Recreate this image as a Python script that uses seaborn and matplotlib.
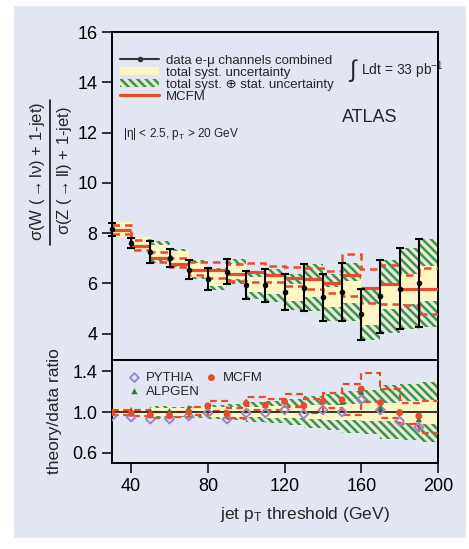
"""W/Z + 1-jet ratio versus jet pT threshold, with theory/data panel."""

import numpy as np
import matplotlib
matplotlib.use("Agg")
import matplotlib.pyplot as plt
from matplotlib.patches import Rectangle, Patch
from matplotlib.lines import Line2D
import seaborn as sns

# jet pT thresholds (GeV), each bin is 10 GeV wide
thresholds = np.array([30, 40, 50, 60, 70, 80, 90, 100, 110, 120, 130, 140, 150, 160, 170, 180, 190])
bin_width = 10

# measured ratio and its uncertainties
data = np.array([8.15, 7.60, 7.24, 7.00, 6.54, 6.17, 6.47, 5.95, 5.92, 5.64, 5.83, 5.44, 5.65, 4.76, 5.49, 5.79, 6.00])
tot_err = np.array([0.25, 0.20, 0.45, 0.35, 0.38, 0.42, 0.51, 0.56, 0.66, 0.72, 0.92, 0.95, 1.16, 1.03, 1.45, 1.60, 1.75])
syst_err = np.array([0.30, 0.25, 0.28, 0.28, 0.28, 0.28, 0.30, 0.30, 0.33, 0.35, 0.38, 0.40, 0.45, 0.42, 0.50, 0.60, 0.70])

# MCFM prediction with its uncertainty envelope
mcfm = np.array([8.11, 7.49, 7.02, 6.76, 6.55, 6.55, 6.36, 6.45, 6.32, 6.22, 6.19, 6.01, 6.32, 5.83, 5.99, 5.76, 5.76])
mcfm_up = np.array([8.34, 7.74, 7.25, 7.02, 6.85, 6.85, 6.75, 6.80, 6.69, 6.65, 6.59, 6.48, 7.18, 6.56, 6.74, 6.32, 6.62])
mcfm_lo = np.array([7.95, 7.31, 6.85, 6.63, 6.32, 6.22, 6.09, 6.05, 6.05, 5.89, 5.79, 5.63, 5.48, 5.21, 5.18, 5.12, 4.79])

# other generators, theory/data
pythia_ratio = np.array([0.96, 0.95, 0.93, 0.93, 0.96, 0.99, 0.93, 0.99, 0.99, 1.02, 0.98, 1.02, 1.00, 1.12, 1.02, 0.91, 0.85])
alpgen_ratio = np.array([1.00, 1.02, 1.01, 1.01, 1.04, 1.06, 0.99, 1.10, 1.07, 1.11, 1.07, 1.11, 1.10, 1.20, 1.04, 1.00, 0.93])

BG = '#e2e6f2'
YELLOW = '#fcf6c4'
GREEN = '#3f8f55'
HATCH_BG = '#e4ecd4'
RED = '#e9492d'
PURPLE = '#9d86c6'
HATCH = '\\\\\\\\'

sns.set_theme(style='ticks')
plt.rcParams['font.family'] = ['Liberation Sans', 'DejaVu Sans']
plt.rcParams['mathtext.fontset'] = 'custom'
plt.rcParams['mathtext.rm'] = 'Liberation Sans'
plt.rcParams['mathtext.it'] = 'Liberation Sans'
plt.rcParams['mathtext.default'] = 'regular'
plt.rcParams['hatch.linewidth'] = 1.8
plt.rcParams['axes.linewidth'] = 1.4

fig = plt.figure(figsize=(4.69, 5.49), dpi=100)
fig.patch.set_facecolor('white')
fig.patches.append(Rectangle((0.0299, 0.02), 0.9638, 0.969, transform=fig.transFigure,
                             facecolor=BG, edgecolor='none', zorder=-10))

ax1 = fig.add_axes([0.2388, 0.3443, 0.695, 0.5974])
ax2 = fig.add_axes([0.2388, 0.1566, 0.695, 0.1877], sharex=ax1)
edges = np.append(thresholds, thresholds[-1] + bin_width)

for ax in (ax1, ax2):
    ax.set_facecolor(BG)
    for s in ax.spines.values():
        s.set_color('black')
        s.set_visible(True)
    ax.tick_params(direction='out', length=7, width=1.1, labelsize=13, colors='black')

# Upper panel: bands, MCFM and data
ax1.bar(thresholds, 2 * tot_err, bottom=data - tot_err, width=bin_width, align='edge',
        facecolor=HATCH_BG, edgecolor=GREEN, hatch=HATCH, linewidth=0, zorder=1)
ax1.bar(thresholds, 2 * syst_err, bottom=data - syst_err, width=bin_width, align='edge',
        color=YELLOW, linewidth=0, zorder=2)
ax1.stairs(mcfm_up, edges, baseline=None, color=RED, linestyle=(0, (3, 2)), linewidth=1.8, zorder=3)
ax1.stairs(mcfm_lo, edges, baseline=None, color=RED, linestyle=(0, (3, 2)), linewidth=1.8, zorder=3)
ax1.hlines(mcfm, thresholds, thresholds + bin_width, color=RED, linewidth=2.3, zorder=4)
ax1.errorbar(thresholds, data, yerr=tot_err, fmt='o', ms=3, color='black', ecolor='black',
             elinewidth=1.5, capsize=3, capthick=1.5, zorder=5, clip_on=False)

ax1.set_ylim(2.95, 16)
ax1.set_yticks([4, 6, 8, 10, 12, 14, 16])
ax1.tick_params(axis='x', labelbottom=False, length=0)

handles = [
    Line2D([], [], color='#333333', marker='o', ms=3, lw=1.5),
    Patch(facecolor=YELLOW, edgecolor='none'),
    Patch(facecolor=HATCH_BG, edgecolor=GREEN, hatch=HATCH, linewidth=0),
    Line2D([], [], color=RED, lw=2.3),
]
labels = ['data e-\u03bc channels combined', 'total syst. uncertainty',
          'total syst. \u2295 stat. uncertainty', 'MCFM']
ax1.legend(handles, labels, loc='upper left', bbox_to_anchor=(0.0, 0.955), frameon=False,
           fontsize=9.5, handlelength=3.0, handleheight=0.6, labelspacing=0.0,
           handletextpad=0.5, borderaxespad=0.2)

ax1.text(0.725, 0.883, r'$\int$', transform=ax1.transAxes, fontsize=17, va='center', ha='left')
ax1.text(0.765, 0.885, r'Ldt = 33 pb$^{-1}$', transform=ax1.transAxes,
         fontsize=10, va='center', ha='left')
ax1.text(0.79, 0.738, 'ATLAS', transform=ax1.transAxes, fontsize=13, va='center', ha='center')
ax1.text(0.035, 0.69, r'|$\eta$| < 2.5, p$_\mathrm{T}$ > 20 GeV', transform=ax1.transAxes,
         fontsize=8.5, va='center', ha='left')

# Lower panel: theory / data
ax2.bar(thresholds, 2 * tot_err / data, bottom=1 - tot_err / data, width=bin_width, align='edge',
        facecolor=HATCH_BG, edgecolor=GREEN, hatch=HATCH, linewidth=0, zorder=1)
ax2.bar(thresholds, 2 * syst_err / data, bottom=1 - syst_err / data, width=bin_width, align='edge',
        color=YELLOW, linewidth=0, zorder=2)
ax2.stairs(mcfm_up / data, edges, baseline=None, color=RED, linestyle=(0, (3, 2)), linewidth=1.6, zorder=3)
ax2.stairs(mcfm_lo / data, edges, baseline=None, color=RED, linestyle=(0, (3, 2)), linewidth=1.6, zorder=3)
ax2.axhline(1.0, color='#333333', linewidth=1.4, zorder=4)

sns.scatterplot(x=thresholds, y=pythia_ratio, ax=ax2, marker='D', s=20, facecolor='none',
                edgecolor=PURPLE, linewidth=1.4, label='PYTHIA', zorder=6)
sns.scatterplot(x=thresholds, y=alpgen_ratio, ax=ax2, marker='^', s=20, color='#2f7a3c',
                edgecolor='none', label='ALPGEN', zorder=6)
sns.scatterplot(x=thresholds, y=mcfm / data, ax=ax2, marker='o', s=24, color=RED,
                edgecolor='none', label='MCFM', zorder=7)

ax2.legend(loc='upper left', bbox_to_anchor=(0.0, 1.0), ncol=2, frameon=False, fontsize=9.5,
           handletextpad=0.05, columnspacing=0.1, labelspacing=0.1, borderaxespad=0.5,
           handlelength=1.6, markerscale=1.0)

ax2.set_ylim(0.5, 1.51)
ax2.set_yticks([0.6, 1.0, 1.4])
ax2.set_yticklabels(['0.6', '1.0', '1.4'])
ax2.set_xlim(30, 200)
ax2.set_xticks([40, 80, 120, 160, 200])
ax2.set_xlabel('')
ax2.set_ylabel('')

# main y label drawn as a fraction: numerator, bar, denominator
fig.text(0.079, 0.687, r'$\sigma$(W ($\rightarrow$l$\nu$) + 1-jet)', rotation=90, fontsize=12,
         ha='center', va='center')
fig.add_artist(Line2D([0.1066, 0.1066], [1 - 100 / 549, 1 - 245 / 549], transform=fig.transFigure,
                      color='black', linewidth=1.1))
fig.text(0.137, 0.69, r'$\sigma$(Z ($\rightarrow$ll) + 1-jet)', rotation=90, fontsize=12,
         ha='center', va='center')
fig.text(0.117, 0.251, 'theory/data ratio', rotation=90, fontsize=12.5, ha='center', va='center')
fig.text(0.651, 0.062, r'jet p$_\mathrm{T}$ threshold (GeV)', fontsize=12.5, ha='center', va='center')

fig.savefig('out.png', dpi=100, facecolor=fig.get_facecolor())
